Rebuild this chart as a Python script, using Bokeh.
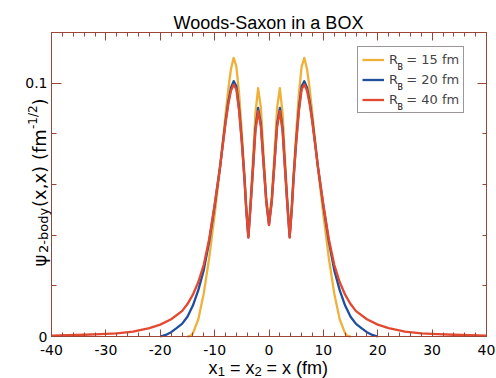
import math
from bokeh.plotting import figure
from bokeh.models import (Range1d, LinearAxis, SingleIntervalTicker, Label,
                          Legend, LegendItem, CustomJSTickFormatter)
from bokeh.embed import file_html
from bokeh.resources import INLINE

# ---------------- data ----------------
x_15 = [-15, -14.5, -14, -13, -12, -11, -10, -9, -8.5, -8, -7.5, -7, -6.5, -6,
        -5.5, -5, -4.5, -4.2, -3.8, -3.4, -3, -2.5, -2, -1.5, -1, -0.5, 0,
        0.5, 1, 1.5, 2, 2.5, 3, 3.4, 3.8, 4.2, 4.5, 5, 5.5, 6, 6.5, 7, 7.5,
        8, 8.5, 9, 10, 11, 12, 13, 14, 14.5, 15]
psi_15 = [0.0, 0.0002, 0.0012, 0.0068, 0.0170, 0.0310, 0.0480, 0.0665, 0.0770,
          0.0875, 0.0975, 0.1055, 0.1100, 0.1065, 0.0960, 0.0805, 0.0635,
          0.0520, 0.0400, 0.0535, 0.0680, 0.0880, 0.0980, 0.0905, 0.0720,
          0.0550, 0.0455,
          0.0550, 0.0720, 0.0905, 0.0980, 0.0880, 0.0680, 0.0535, 0.0400,
          0.0520, 0.0635, 0.0805, 0.0960, 0.1065, 0.1100, 0.1055, 0.0975,
          0.0875, 0.0770, 0.0665, 0.0480, 0.0310, 0.0170, 0.0068, 0.0012,
          0.0002, 0.0]

x_20 = [-20, -19, -18, -17, -16, -15, -14, -13, -12, -11, -10, -9, -8.5, -8,
        -7.5, -7, -6.5, -6, -5.5, -5, -4.5, -4.2, -3.8, -3.4, -3, -2.5, -2,
        -1.5, -1, -0.5, 0,
        0.5, 1, 1.5, 2, 2.5, 3, 3.4, 3.8, 4.2, 4.5, 5, 5.5, 6, 6.5, 7, 7.5,
        8, 8.5, 9, 10, 11, 12, 13, 14, 15, 16, 17, 18, 19, 20]
psi_20 = [0.0, 0.0006, 0.0017, 0.0033, 0.0050, 0.0078, 0.0122, 0.0183, 0.0262,
          0.0375, 0.0515, 0.0670, 0.0760, 0.0847, 0.0925, 0.0982, 0.1008,
          0.0988, 0.0900, 0.0772, 0.0620, 0.0508, 0.0392, 0.0515, 0.0648,
          0.0820, 0.0902, 0.0840, 0.0685, 0.0533, 0.0442,
          0.0533, 0.0685, 0.0840, 0.0902, 0.0820, 0.0648, 0.0515, 0.0392,
          0.0508, 0.0620, 0.0772, 0.0900, 0.0988, 0.1008, 0.0982, 0.0925,
          0.0847, 0.0760, 0.0670, 0.0515, 0.0375, 0.0262, 0.0183, 0.0122,
          0.0078, 0.0050, 0.0033, 0.0017, 0.0006, 0.0]

x_40 = [-40, -37, -34, -31, -28, -25, -22, -20, -18, -16, -15, -14, -13, -12,
        -11, -10, -9, -8.5, -8, -7.5, -7, -6.5, -6, -5.5, -5, -4.5, -4.2,
        -3.8, -3.4, -3, -2.5, -2, -1.5, -1, -0.5, 0,
        0.5, 1, 1.5, 2, 2.5, 3, 3.4, 3.8, 4.2, 4.5, 5, 5.5, 6, 6.5, 7, 7.5,
        8, 8.5, 9, 10, 11, 12, 13, 14, 15, 16, 18, 20, 22, 25, 28, 31, 34,
        37, 40]
psi_40 = [0.0003, 0.0005, 0.0007, 0.0009, 0.0012, 0.0019, 0.0033, 0.0047,
          0.0068, 0.0100, 0.0128, 0.0165, 0.0215, 0.0283, 0.0385, 0.0520,
          0.0670, 0.0755, 0.0840, 0.0915, 0.0970, 0.0995, 0.0975, 0.0890,
          0.0765, 0.0615, 0.0505, 0.0390, 0.0510, 0.0640, 0.0810, 0.0890,
          0.0830, 0.0680, 0.0530, 0.0440,
          0.0530, 0.0680, 0.0830, 0.0890, 0.0810, 0.0640, 0.0510, 0.0390,
          0.0505, 0.0615, 0.0765, 0.0890, 0.0975, 0.0995, 0.0970, 0.0915,
          0.0840, 0.0755, 0.0670, 0.0520, 0.0385, 0.0283, 0.0215, 0.0165,
          0.0128, 0.0100, 0.0068, 0.0047, 0.0033, 0.0019, 0.0012, 0.0009,
          0.0007, 0.0005, 0.0003]

# legend texts: "R" + (subscript B drawn separately) + " = .. fm"
series_labels = ["R\u00a0\u00a0= 15 fm", "R\u00a0\u00a0= 20 fm",
                 "R\u00a0\u00a0= 40 fm"]
title_text = "Woods-Saxon in a BOX"
x_min, x_max = -40, 40
y_min, y_max = 0.0, 0.12
x_tick_interval = 10
y_tick_interval = 0.1
x_tick_labels = {-40: "-40", -30: "-30", -20: "-20", -10: "-10", 0: "0",
                 10: "10", 20: "20", 30: "30", 40: "40"}
y_tick_labels = {0: "0", 0.1: "0.1"}

# ---------------- layout / styling ----------------
W, H = 496, 378
# plot box in page pixels (left, right, top, bottom)
BL, BR, BT, BB = 51, 486, 32, 336
C15, C20, C40 = "#F0B13A", "#1F4E9E", "#E3492F"
AXC = "#9A4536"
FONT = "DejaVu Sans"
FONT2 = "Liberation Sans"

# the frame covers the whole canvas; ranges are widened so that the data box
# [x_min, x_max] x [y_min, y_max] lands on the plot box above
sx_per = (BR - BL) / (x_max - x_min)
sy_per = (BB - BT) / (y_max - y_min)
x_range = Range1d(x_min - BL / sx_per, x_max + (W - BR) / sx_per)
y_range = Range1d(y_min - (H - BB) / sy_per, y_max + BT / sy_per)

p = figure(width=W, height=H, x_range=x_range, y_range=y_range,
           output_backend="svg", toolbar_location=None,
           min_border_left=0, min_border_right=0, min_border_top=0,
           min_border_bottom=0)
p.title.visible = False
p.outline_line_color = None
p.xgrid.visible = False
p.ygrid.visible = False
p.background_fill_color = "white"
p.border_fill_color = "white"


def style_axis(ax, major_in, minor_in, labels=True, standoff=4):
    ax.axis_line_color = AXC
    ax.major_tick_line_color = AXC
    ax.minor_tick_line_color = AXC
    ax.major_tick_in = major_in
    ax.major_tick_out = 0
    ax.minor_tick_in = minor_in
    ax.minor_tick_out = 0
    ax.major_label_standoff = standoff
    if labels:
        ax.major_label_text_font = FONT
        ax.major_label_text_font_size = "14px"
        ax.major_label_text_color = "black"
    else:
        ax.formatter = CustomJSTickFormatter(code="return ''")
        ax.major_label_standoff = 0


xb = p.xaxis[0]
xb.ticker = SingleIntervalTicker(interval=x_tick_interval, num_minor_ticks=5)
xb.fixed_location = y_min
xb.bounds = (x_min, x_max)
xb.major_label_overrides = x_tick_labels
style_axis(xb, 7, 4, True, 8)

yl = p.yaxis[0]
yl.ticker = SingleIntervalTicker(interval=y_tick_interval, num_minor_ticks=5)
yl.fixed_location = x_min
yl.bounds = (y_min, y_max)
yl.major_label_overrides = y_tick_labels
style_axis(yl, 10, 5, True, 4)

xt = LinearAxis(ticker=SingleIntervalTicker(interval=x_tick_interval, num_minor_ticks=5),
                fixed_location=y_max, bounds=(x_min, x_max))
style_axis(xt, 8, 4, False)
p.add_layout(xt, "above")

yr = LinearAxis(ticker=SingleIntervalTicker(interval=y_tick_interval, num_minor_ticks=5),
                fixed_location=x_max, bounds=(y_min, y_max))
style_axis(yr, 9, 4, False)
p.add_layout(yr, "right")

r15 = p.line(x_15, psi_15, line_color=C15, line_width=2.3, line_join="round")
r20 = p.line(x_20, psi_20, line_color=C20, line_width=2.3, line_join="round")
r40 = p.line(x_40, psi_40, line_color=C40, line_width=2.3, line_join="round")

legend = Legend(items=[LegendItem(label=series_labels[0], renderers=[r15]),
                       LegendItem(label=series_labels[1], renderers=[r20]),
                       LegendItem(label=series_labels[2], renderers=[r40])],
                location=(357, H - 113), padding=4, spacing=3, margin=0,
                glyph_height=17, glyph_width=22, label_height=17,
                label_standoff=5, label_text_font=FONT,
                label_text_font_size="13px", border_line_color="#3a3030",
                border_line_width=1, background_fill_alpha=0.0)
p.add_layout(legend)


def lab(text, ix, iy, size, font=FONT, angle=0.0, align="left",
        baseline="alphabetic"):
    # ix, iy: page pixels from top-left; converted to screen units
    p.add_layout(Label(x=ix, y=H - iy, x_units="screen", y_units="screen",
                       text=text, text_font=font, text_font_size=f"{size}px",
                       angle=angle, text_align=align, text_baseline=baseline,
                       text_color="black"))


# legend subscripts
for iy in (67, 87, 107):
    lab("B", 397, iy, 8)

# title
lab(title_text, 268, 22.7, 18, font=FONT2, align="center")

# x axis label: x1 = x2 = x (fm)
lab("x", 208, 367, 18, font=FONT2)
lab("1", 217.2, 370.5, 13, font=FONT2)
lab("= x", 229.5, 367, 18, font=FONT2)
lab("2", 254, 370.5, 13, font=FONT2)
lab("= x (fm)", 266, 367, 18, font=FONT2)

# y axis label: psi_{2-body}(x,x) (fm^{-1/2}), rotated
A = math.pi / 2
lab("\u03c8", 39, 266, 18, angle=A)
lab("2-body", 43, 252.5, 13, angle=A)
lab("(x,x)", 39, 206.5, 18, angle=A)
lab("(fm", 39, 159.5, 18, angle=A)
lab("-1/2", 32, 128.5, 12, angle=A)
lab(")", 39, 105, 18, angle=A)

open("out.html", "w").write(file_html(p, INLINE))
